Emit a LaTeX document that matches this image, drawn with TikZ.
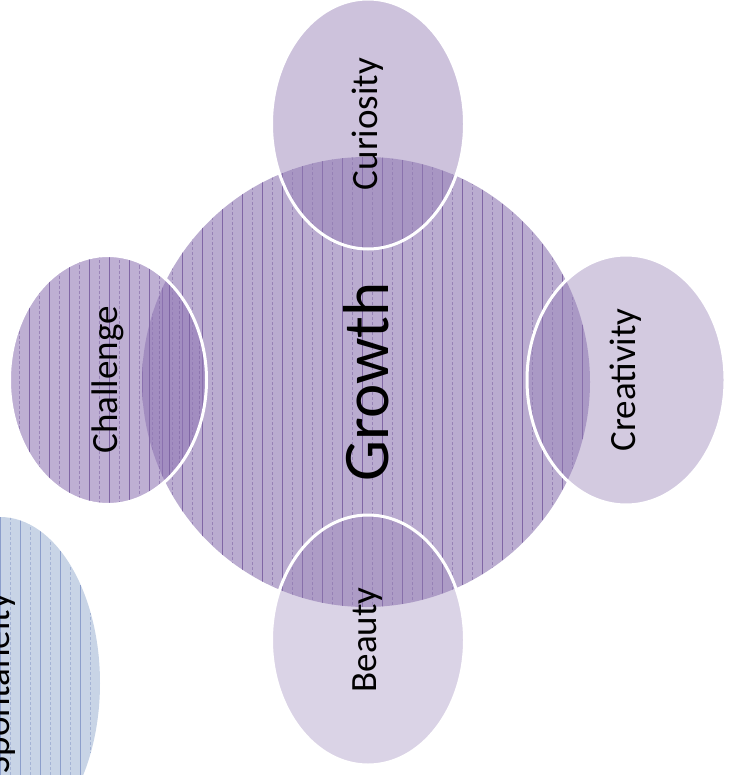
\documentclass[tikz,border=0pt]{standalone}
\usepackage{fontspec}
\setmainfont{Carlito}
\usetikzlibrary{shapes.geometric}
\definecolor{cenfill}{RGB}{186,172,208}
\definecolor{cenline}{RGB}{128,102,165}
\definecolor{satfill}{RGB}{150,128,182}
\definecolor{chalfill}{RGB}{147,121,182}
\definecolor{sponfill}{RGB}{200,212,230}
\definecolor{sponline}{RGB}{140,158,203}
\tikzset{
  stripes/.style={path picture={
      \foreach \k in {0,2,...,60}{\draw[#1,line width=0.6pt]
        ([xshift=\k*10pt]path picture bounding box.north west) --
        ([xshift=\k*10pt]path picture bounding box.south west);}
      \foreach \k in {1,3,...,59}{\draw[#1,line width=0.5pt,draw opacity=0.6,dash pattern=on 3pt off 2pt]
        ([xshift=\k*10pt]path picture bounding box.north west) --
        ([xshift=\k*10pt]path picture bounding box.south west);}
  }},
  blob/.style={ellipse, inner sep=0pt, text=black, text opacity=1},
  sat/.style={blob, draw=white, line width=3pt, fill=satfill, font=\fontsize{37}{44}\selectfont},
}
\begin{document}
\begin{tikzpicture}[x=1pt,y=-1pt]
\useasboundingbox (0,0) rectangle (731,775);
\clip (0,0) rectangle (731,775);
% spontaneity
\node[blob, fill=sponfill, stripes=sponline, minimum width=200pt, minimum height=332pt,
      font=\fontsize{37}{44}\selectfont] (spon) at (0,683) {\rotatebox{90}{Spontaneity}};
% center
\node[blob, fill=cenfill, stripes=cenline, minimum width=448pt, minimum height=450pt,
      font=\fontsize{65}{72}\selectfont] (growth) at (366,382) {\rotatebox{90}{Growth}};
% satellites
\node[sat, fill=chalfill, fill opacity=0.6, stripes=cenline, minimum width=197pt, minimum height=249pt] (chal) at (108,380) {\rotatebox{90}{Challenge}};
\node[sat, fill opacity=0.48, minimum width=193pt, minimum height=250pt] (cur) at (368,124) {\rotatebox{90}{Curiosity}};
\node[sat, fill opacity=0.42, minimum width=198pt, minimum height=250pt] (cre) at (626,380) {\rotatebox{90}{Creativity}};
\node[sat, fill opacity=0.35, minimum width=193pt, minimum height=250pt] (bea) at (368,640) {\rotatebox{90}{Beauty}};
\end{tikzpicture}
\end{document}
